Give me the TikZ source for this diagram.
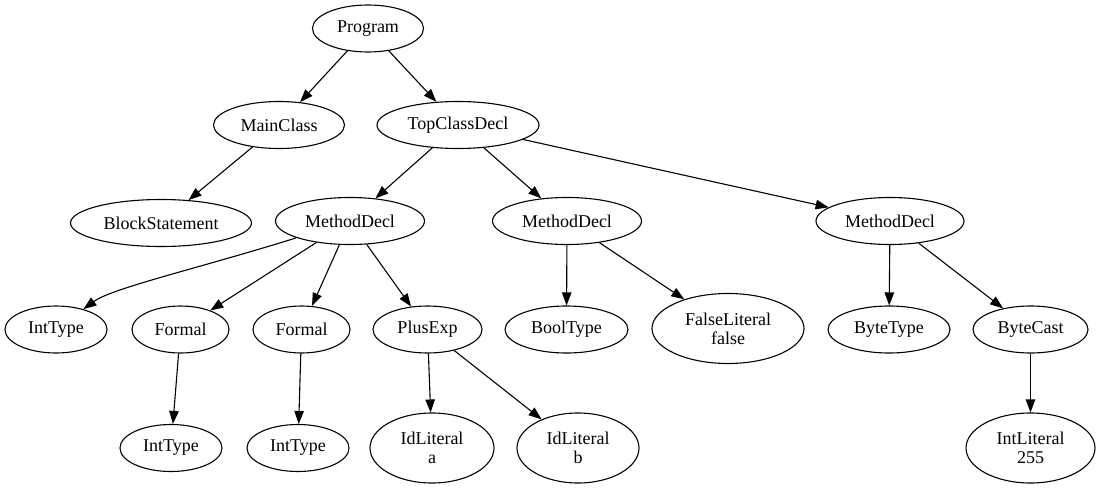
\documentclass[tikz,border=0pt]{standalone}
\usepackage{fontspec}
\setmainfont{Liberation Serif}
\usetikzlibrary{shapes.geometric,arrows.meta}
\tikzset{
  nd/.style={ellipse, draw, line width=1.1pt, inner sep=0pt, align=center,
    font=\fontsize{18}{19}\selectfont, minimum height=47pt},
  two/.style={minimum height=70pt},
  edge/.style={line width=1.1pt, -{Triangle[length=13pt,width=9.5pt]}}
}
\begin{document}
\begin{tikzpicture}[x=1pt,y=-1pt]
\useasboundingbox (0,0) rectangle (1101,490);
\node[nd, minimum width=111pt] (prog) at (368,28.5) {Program};
\node[nd, minimum width=131pt] (mc) at (279,125) {MainClass};
\node[nd, minimum width=162pt] (tcd) at (458,125) {TopClassDecl};
\node[nd, minimum width=181pt] (bs) at (161,223) {BlockStatement};
\node[nd, minimum width=149pt] (md1) at (350,221) {MethodDecl};
\node[nd, minimum width=149pt] (md2) at (567,221) {MethodDecl};
\node[nd, minimum width=148pt] (md3) at (890,221) {MethodDecl};
\node[nd, minimum width=102pt] (it1) at (56,329.5) {IntType};
\node[nd, minimum width=97pt] (f1) at (180.5,329.5) {Formal};
\node[nd, minimum width=97pt] (f2) at (301.5,329.5) {Formal};
\node[nd, minimum width=109pt] (pe) at (427.5,329.5) {PlusExp};
\node[nd, minimum width=123pt] (bt) at (566.5,329.5) {BoolType};
\node[nd, two, minimum width=152pt] (fl) at (728,328.5) {FalseLiteral\\false};
\node[nd, minimum width=122pt] (byt) at (889,329.5) {ByteType};
\node[nd, minimum width=115pt] (bc) at (1030.5,329.5) {ByteCast};
\node[nd, minimum width=102pt] (it2) at (171,448) {IntType};
\node[nd, minimum width=102pt] (it3) at (298,448) {IntType};
\node[nd, two, minimum width=124pt] (ida) at (432,448) {IdLiteral\\a};
\node[nd, two, minimum width=122pt] (idb) at (578,448) {IdLiteral\\b};
\node[nd, two, minimum width=129pt] (il) at (1030.5,448) {IntLiteral\\255};
\draw[edge] (prog) -- (mc);
\draw[edge] (prog) -- (tcd);
\draw[edge] (mc) -- (bs);
\draw[edge] (tcd) -- (md1);
\draw[edge] (tcd) -- (md2);
\draw[edge] (tcd) -- (md3);
\draw[edge] (md1) .. controls (200,268) and (112,288) .. (it1);
\draw[edge] (md1) -- (f1);
\draw[edge] (md1) -- (f2);
\draw[edge] (md1) -- (pe);
\draw[edge] (f1) -- (it2);
\draw[edge] (f2) -- (it3);
\draw[edge] (pe) -- (ida);
\draw[edge] (pe) -- (idb);
\draw[edge] (md2) -- (bt);
\draw[edge] (md2) -- (fl);
\draw[edge] (md3) -- (byt);
\draw[edge] (md3) -- (bc);
\draw[edge] (bc) -- (il);
\end{tikzpicture}
\end{document}
